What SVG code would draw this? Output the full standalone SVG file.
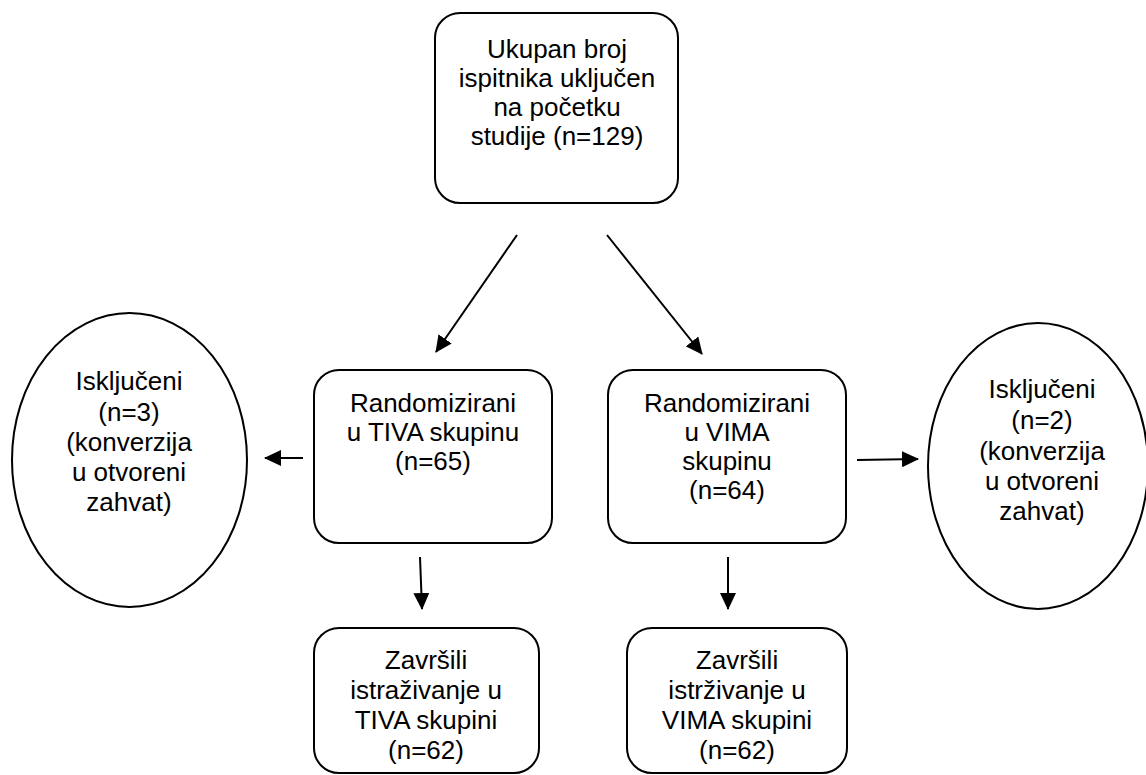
<svg xmlns="http://www.w3.org/2000/svg" width="1146" height="775" viewBox="0 0 1146 775">
  <defs>
    <marker id="ah" markerUnits="userSpaceOnUse" markerWidth="17" markerHeight="16" refX="16" refY="8" orient="auto">
      <path d="M0,0 L17,8 L0,16 z" fill="#000"/>
    </marker>
    <style>
      .box { fill: #fff; stroke: #000; stroke-width: 2; }
      .lbl { font-family: "Liberation Sans", Arial, sans-serif; font-size: 26px; fill: #000; text-anchor: middle; }
      .conn { stroke: #000; stroke-width: 2; fill: none; marker-end: url(#ah); }
    </style>
  </defs>
  <rect width="1146" height="775" fill="#fff"/>

  <g id="connectors">
    <line class="conn" x1="517" y1="235" x2="436" y2="352"/>
    <line class="conn" x1="607" y1="235" x2="702" y2="354"/>
    <line class="conn" x1="303" y1="458" x2="265" y2="458"/>
    <line class="conn" x1="857" y1="460" x2="918" y2="459"/>
    <line class="conn" x1="420" y1="557" x2="422" y2="609"/>
    <line class="conn" x1="728" y1="557" x2="728" y2="609"/>
  </g>

  <g id="start">
    <rect class="box" x="435" y="13" width="243" height="190" rx="25"/>
    <text class="lbl" x="557" y="58">Ukupan broj</text>
    <text class="lbl" x="557" y="87">ispitnika uključen</text>
    <text class="lbl" x="557" y="116">na početku</text>
    <text class="lbl" x="557" y="145">studije (n=129)</text>
  </g>

  <g id="tiva">
    <rect class="box" x="314" y="370" width="238" height="173" rx="25"/>
    <text class="lbl" x="433" y="412">Randomizirani</text>
    <text class="lbl" x="433" y="441">u TIVA skupinu</text>
    <text class="lbl" x="433" y="470">(n=65)</text>
  </g>

  <g id="vima">
    <rect class="box" x="608" y="370" width="238" height="173" rx="25"/>
    <text class="lbl" x="727" y="412">Randomizirani</text>
    <text class="lbl" x="727" y="441">u VIMA</text>
    <text class="lbl" x="727" y="470">skupinu</text>
    <text class="lbl" x="727" y="499">(n=64)</text>
  </g>

  <g id="excl-left">
    <ellipse class="box" cx="129.5" cy="460" rx="117.5" ry="147"/>
    <text class="lbl" x="129" y="390">Isključeni</text>
    <text class="lbl" x="129" y="421">(n=3)</text>
    <text class="lbl" x="129" y="451">(konverzija</text>
    <text class="lbl" x="129" y="481">u otvoreni</text>
    <text class="lbl" x="129" y="511">zahvat)</text>
  </g>

  <g id="excl-right">
    <ellipse class="box" cx="1038" cy="466" rx="110" ry="143"/>
    <text class="lbl" x="1042" y="398">Isključeni</text>
    <text class="lbl" x="1042" y="429">(n=2)</text>
    <text class="lbl" x="1042" y="460">(konverzija</text>
    <text class="lbl" x="1042" y="490">u otvoreni</text>
    <text class="lbl" x="1042" y="520">zahvat)</text>
  </g>

  <g id="done-tiva">
    <rect class="box" x="314" y="628" width="225" height="145" rx="25"/>
    <text class="lbl" x="426" y="669">Završili</text>
    <text class="lbl" x="426" y="699">istraživanje u</text>
    <text class="lbl" x="426" y="729">TIVA skupini</text>
    <text class="lbl" x="426" y="759">(n=62)</text>
  </g>

  <g id="done-vima">
    <rect class="box" x="627" y="628" width="220" height="145" rx="25"/>
    <text class="lbl" x="737" y="669">Završili</text>
    <text class="lbl" x="737" y="699">istrživanje u</text>
    <text class="lbl" x="737" y="729">VIMA skupini</text>
    <text class="lbl" x="737" y="759">(n=62)</text>
  </g>
</svg>
